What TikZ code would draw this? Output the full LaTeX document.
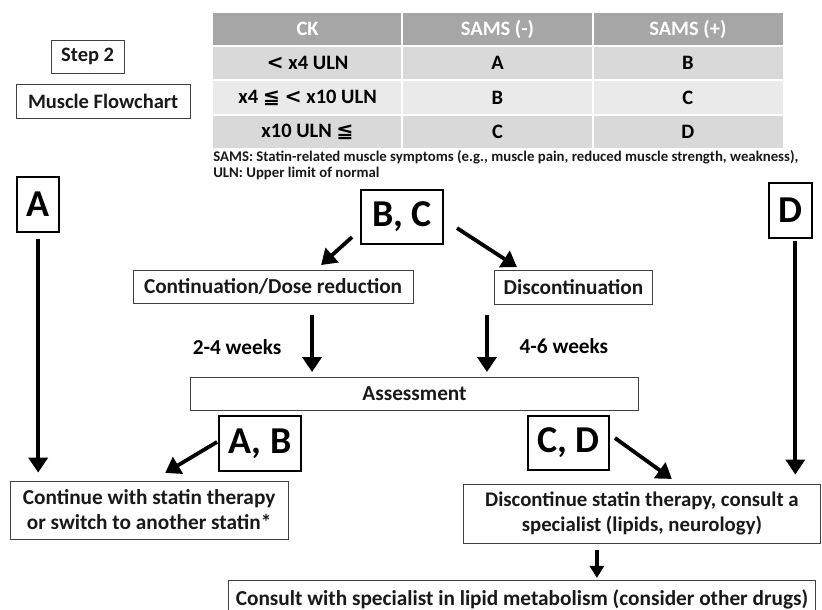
\documentclass[tikz,border=0pt]{standalone}
\usepackage{fontspec}
\setmainfont{Carlito}
\newfontfamily\symfont{DejaVu Sans}
\usetikzlibrary{arrows.meta}
\definecolor{headgray}{RGB}{166,166,166}
\definecolor{rowdark}{RGB}{217,217,217}
\definecolor{rowlight}{RGB}{234,234,234}
\newcommand{\leqsym}{{\symfont ≦}}
\newcommand{\ltsym}{{\symfont <}}
\tikzset{
  plainbox/.style={draw=black!75,line width=0.8pt,inner sep=0pt,text=black!90},
  letterbox/.style={draw=black,line width=2.2pt,inner sep=0pt,font=\fontsize{38}{42}\selectfont\bfseries},
  cellfont/.style={font=\fontsize{20.5}{24}\selectfont\bfseries},
  midfont/.style={font=\fontsize{21.3}{25}\selectfont\bfseries},
  bigarrow/.style={line width=3.8pt,-{Triangle[width=19pt,length=15pt]}},
  smallarrow/.style={line width=3.2pt,-{Triangle[width=14pt,length=12pt]}},
}
\begin{document}
\begin{tikzpicture}[x=1pt,y=-1pt]
\filldraw[color=white] (0,0) rectangle (822,609);
\useasboundingbox (0,0) rectangle (822,609);
% Drawing title boxes
\node[plainbox,cellfont,minimum width=73pt,minimum height=33pt] (step) at (87.5,56.5) {Step 2};
\node[plainbox,cellfont,minimum width=174pt,minimum height=34pt] (muscle) at (103,101) {Muscle Flowchart};
% Drawing table
\fill[headgray] (213,13) rectangle (783,45);
\fill[rowdark] (213,47) rectangle (783,79);
\fill[rowlight] (213,81) rectangle (783,114);
\fill[rowdark] (213,116) rectangle (783,148);
\draw[white,line width=1.2pt] (402,13) -- (402,148);
\draw[white,line width=1.2pt] (593,13) -- (593,148);
% Table header
\node[cellfont,text=white] (hck) at (307.5,29) {CK};
\node[cellfont,text=white] (hneg) at (497.5,29) {SAMS (-)};
\node[cellfont,text=white] (hpos) at (688,29) {SAMS (+)};
% Table rows
\node[cellfont] (ckone) at (307.5,63) {\ltsym\ x4 ULN};
\node[cellfont] (negone) at (497.5,63) {A};
\node[cellfont] (posone) at (688,63) {B};
\node[cellfont] (cktwo) at (307.5,97.5) {x4 \leqsym\ \ltsym\ x10 ULN};
\node[cellfont] (negtwo) at (497.5,97.5) {B};
\node[cellfont] (postwo) at (688,97.5) {C};
\node[cellfont] (ckthree) at (307.5,132) {x10 ULN \leqsym};
\node[cellfont] (negthree) at (497.5,132) {C};
\node[cellfont] (posthree) at (688,132) {D};
% Footnote
\node[anchor=north west,inner sep=0pt,align=left,text=black!90,font=\fontsize{14.8}{16}\selectfont\bfseries] (note) at (213,150)
  {SAMS: Statin-related muscle symptoms (e.g., muscle pain, reduced muscle strength, weakness),\\ULN: Upper limit of normal};
% Drawing grade boxes
\node[letterbox,minimum width=42pt,minimum height=55pt] (boxA) at (38,204.5) {A};
\node[letterbox,minimum width=82pt,minimum height=54pt] (boxBC) at (402,217) {B, C};
\node[letterbox,minimum width=43pt,minimum height=55pt] (boxD) at (790.5,210.5) {D};
\node[letterbox,minimum width=82pt,minimum height=55pt] (boxAB) at (260,443.5) {A, B};
\node[letterbox,minimum width=81pt,minimum height=54pt] (boxCD) at (568.5,443) {C, D};
% Drawing step boxes
\node[plainbox,midfont,minimum width=280pt,minimum height=33pt] (cont) at (273,286.5) {Continuation/Dose reduction};
\node[plainbox,midfont,minimum width=159pt,minimum height=34pt] (disc) at (573.5,287) {Discontinuation};
\node[plainbox,midfont,minimum width=449pt,minimum height=33pt] (assess) at (414.5,393.5) {Assessment};
\node[plainbox,midfont,align=center,minimum width=278pt,minimum height=58pt] (keep) at (149,510)
  {Continue with statin therapy\\or switch to another statin*};
\node[plainbox,font=\fontsize{20.8}{25}\selectfont\bfseries,align=center,minimum width=358pt,minimum height=59pt] (stop) at (642,513.5)
  {Discontinue statin therapy, consult a\\specialist (lipids, neurology)};
\node[plainbox,midfont,minimum width=588pt,minimum height=38pt] (consult) at (522,599)
  {Consult with specialist in lipid metabolism (consider other drugs)};
% Interval labels
\node[midfont] (wkshort) at (237,347) {2-4 weeks};
\node[midfont] (wklong) at (564,346) {4-6 weeks};
% Drawing arrows
\coordinate (bcleft) at (352,237);
\coordinate (contin) at (321,265);
\coordinate (bcright) at (457,228);
\coordinate (discin) at (517,267);
\coordinate (contout) at (312,315);
\coordinate (contassess) at (312,372);
\coordinate (discout) at (487,315);
\coordinate (discassess) at (487,372);
\coordinate (ableft) at (217,442);
\coordinate (keepin) at (165,473);
\coordinate (cdright) at (615,438);
\coordinate (stopin) at (672,479);
\coordinate (stopout) at (597,550);
\coordinate (consultin) at (597,578);
\draw[bigarrow,shorten <=6pt,shorten >=8pt] (boxA.south) -- (boxA.south |- keep.north);
\draw[bigarrow,shorten <=2pt,shorten >=9pt] ([xshift=5pt]boxD.south) -- ([xshift=5pt]boxD.south |- stop.north);
\draw[bigarrow] (bcleft) -- (contin);
\draw[bigarrow] (bcright) -- (discin);
\draw[bigarrow] (contout) -- (contassess);
\draw[bigarrow] (discout) -- (discassess);
\draw[bigarrow] (ableft) -- (keepin);
\draw[bigarrow] (cdright) -- (stopin);
\draw[smallarrow] (stopout) -- (consultin);
\end{tikzpicture}
\end{document}
